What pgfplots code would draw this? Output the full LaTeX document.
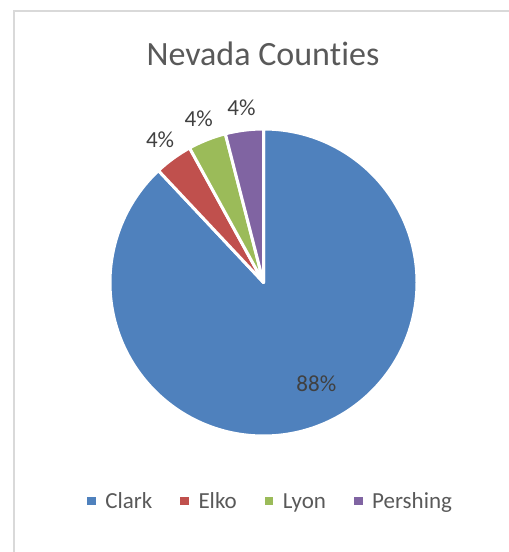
\documentclass[border=0pt]{standalone}
\usepackage{pgfplots}
\pgfplotsset{compat=1.18}
\usepackage{pgfplotstable}
\usepackage{fontspec}
\setmainfont{Carlito}[RawFeature=-liga]

\definecolor{clark}{HTML}{4F81BD}
\definecolor{elko}{HTML}{C0504D}
\definecolor{lyon}{HTML}{9BBB59}
\definecolor{pershing}{HTML}{8064A2}
\definecolor{titlegray}{HTML}{595959}
\definecolor{labelgray}{HTML}{404040}
\definecolor{framegray}{HTML}{D9D9D9}

% share of each county, in percent
\pgfplotstableread{
name value
Clark 88
Elko 4
Lyon 4
Pershing 4
}\pietable

\begin{document}
\begin{tikzpicture}
	% slice angles from the table, clockwise from the top
	\pgfplotstablegetelem{0}{value}\of\pietable \let\vA\pgfplotsretval
	\pgfplotstablegetelem{1}{value}\of\pietable \let\vB\pgfplotsretval
	\pgfplotstablegetelem{2}{value}\of\pietable \let\vC\pgfplotsretval
	\pgfplotstablegetelem{3}{value}\of\pietable \let\vD\pgfplotsretval
	\pgfmathsetmacro\aA{90-3.6*\vA}
	\pgfmathsetmacro\aB{\aA-3.6*\vB}
	\pgfmathsetmacro\aC{\aB-3.6*\vC}
	\pgfmathsetmacro\aD{\aC-3.6*\vD}
	\pgfmathsetmacro\mB{(\aA+\aB)/2}
	\pgfmathsetmacro\mC{(\aB+\aC)/2}
	\pgfmathsetmacro\mD{(\aC+\aD)/2}
	\def\R{153.5pt}
	\pgfkeys{/pgf/number format/assume math mode=true}
	\begin{axis}[
	at={(0,0)}, anchor=south west,
	scale only axis,
	width=509pt, height=552pt,
	xmin=0, xmax=509, ymin=0, ymax=552,
	hide axis,
	clip=false,
	legend columns=4,
	legend style={draw=none, fill=none,
		at={(0.1715,0.0924)}, anchor=west,
		inner sep=0pt, outer sep=0pt,
		font=\fontsize{23}{27}\selectfont,
		text=titlegray,
		nodes={inner sep=0pt, text height=16.6pt, text depth=2pt},
		/tikz/every odd column/.append style={column sep=9.5pt},
		/tikz/every even column/.append style={column sep=28pt}},
	legend image code/.code={\fill[#1] (0pt,-4.3pt) rectangle (8.6pt,4.3pt);},
	]
	\draw[framegray, line width=2pt] (axis cs:14,541) rectangle (axis cs:620,-60);
	\node[anchor=base, text=titlegray, font=\fontsize{34}{40}\selectfont]
		at (axis cs:263,486) {Nevada Coun\kern0pt ties};

	\filldraw[fill=clark, draw=white, line width=3pt, line join=round] (axis cs:263.5,269.5) -- ++(90:\R)
		arc[start angle=90, end angle=\aA, radius=\R] -- cycle;
	\filldraw[fill=elko, draw=white, line width=3pt, line join=round] (axis cs:263.5,269.5) -- ++(\aA:\R)
		arc[start angle=\aA, end angle=\aB, radius=\R] -- cycle;
	\filldraw[fill=lyon, draw=white, line width=3pt, line join=round] (axis cs:263.5,269.5) -- ++(\aB:\R)
		arc[start angle=\aB, end angle=\aC, radius=\R] -- cycle;
	\filldraw[fill=pershing, draw=white, line width=3pt, line join=round] (axis cs:263.5,269.5) -- ++(\aC:\R)
		arc[start angle=\aC, end angle=\aD, radius=\R] -- cycle;

	\path (axis cs:263.5,269.5) ++(-62.4:114pt) node[text=labelgray, font=\fontsize{23}{27}\selectfont] {\pgfmathprintnumber{\vA}\%};
	\path (axis cs:263.5,269.5) ++(\mB:176pt) node[text=labelgray, font=\fontsize{23}{27}\selectfont] {\pgfmathprintnumber{\vB}\%};
	\path (axis cs:263.5,269.5) ++(\mC:176pt) node[text=labelgray, font=\fontsize{23}{27}\selectfont] {\pgfmathprintnumber{\vC}\%};
	\path (axis cs:263.5,269.5) ++(\mD:176pt) node[text=labelgray, font=\fontsize{23}{27}\selectfont] {\pgfmathprintnumber{\vD}\%};

	\addlegendimage{fill=clark, draw=none}
	\addlegendimage{fill=elko, draw=none}
	\addlegendimage{fill=lyon, draw=none}
	\addlegendimage{fill=pershing, draw=none}
	\legend{Clark, Elko, Lyon, Pershing}
	\end{axis}
	\pgfresetboundingbox
	\path[use as bounding box] (0,0) rectangle (509pt,552pt);
\end{tikzpicture}
\end{document}
